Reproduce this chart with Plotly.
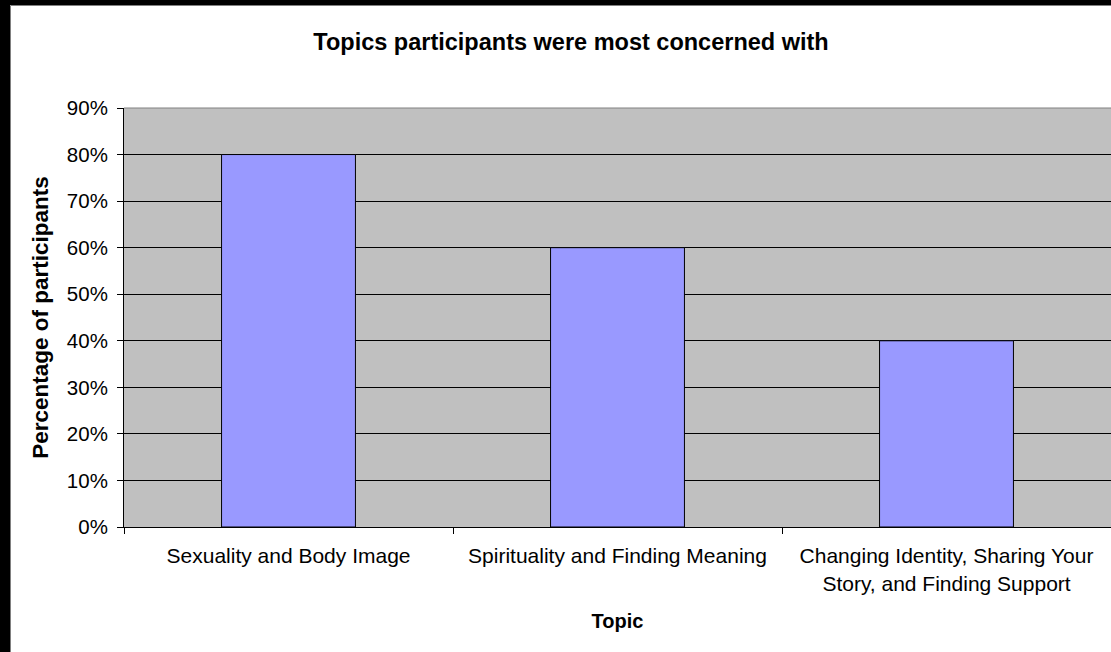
import plotly.graph_objects as go

categories = [
    "Sexuality and Body Image",
    "Spirituality and Finding Meaning",
    "Changing Identity, Sharing Your<br>Story, and Finding Support",
]
values = [0.80, 0.60, 0.40]
y_ticks = [0, 0.1, 0.2, 0.3, 0.4, 0.5, 0.6, 0.7, 0.8, 0.9]

W, H = 1111, 652
L, R, T, B = 124, 0, 108, 125
pw, ph = W - L - R, H - T - B

def px_x(px):
    return (px - L) / pw

def px_y(py):
    return 1 - (py - T) / ph

FONT = "Liberation Sans, Arial, sans-serif"

fig = go.Figure(
    go.Bar(
        x=categories,
        y=values,
        marker=dict(color="#9999FF", line=dict(color="black", width=1)),
        width=0.407,
    )
)

fig.update_layout(
    width=W,
    height=H,
    margin=dict(l=L, r=R, t=T, b=B, pad=0),
    paper_bgcolor="white",
    plot_bgcolor="#C0C0C0",
    font=dict(family=FONT, size=21, color="black"),
    showlegend=False,
    title=dict(
        text="<b>Topics participants were most concerned with</b>",
        font=dict(family=FONT, size=23.5, color="black"),
        xref="container", x=571 / W, xanchor="center",
        yref="container", y=1 - 42 / H, yanchor="middle",
    ),
    xaxis=dict(
        type="category",
        range=[-0.5, 2.5],
        showgrid=False,
        showline=True, linecolor="black", linewidth=1,
        ticks="outside", ticklen=6, tickcolor="black", tickwidth=1,
        tickson="boundaries",
        ticklabelstandoff=10,
        tickfont=dict(family=FONT, size=21, color="black"),
        title=dict(text="<b>Topic</b>", font=dict(family=FONT, size=20, color="black"), standoff=20),
        zeroline=False,
    ),
    yaxis=dict(
        range=[0, 0.9],
        tickvals=y_ticks,
        tickformat=".0%",
        showgrid=True, gridcolor="black", gridwidth=1,
        showline=True, linecolor="black", linewidth=1,
        ticks="outside", ticklen=6, tickcolor="black", tickwidth=1,
        ticklabelstandoff=5,
        tickfont=dict(family=FONT, size=20.5, color="black"),
        title=dict(text="<b>Percentage of participants</b>", font=dict(family=FONT, size=22.5, color="black"), standoff=11),
        zeroline=False,
    ),
    shapes=[
        # top plot-area border (grey)
        dict(type="line", xref="paper", yref="paper", x0=0, x1=1, y0=1, y1=1,
             line=dict(color="#808080", width=1), layer="above"),
        # black frame strips on left and top
        dict(type="rect", xref="paper", yref="paper",
             x0=px_x(0), x1=px_x(10), y0=px_y(H), y1=px_y(0),
             fillcolor="black", line=dict(width=0), layer="above"),
        dict(type="rect", xref="paper", yref="paper",
             x0=px_x(0), x1=px_x(W), y0=px_y(5), y1=px_y(0),
             fillcolor="black", line=dict(width=0), layer="above"),
        dict(type="line", xref="paper", yref="paper",
             x0=px_x(10.5), x1=px_x(10.5), y0=px_y(H), y1=px_y(5.5),
             line=dict(color="#808080", width=1), layer="above"),
        dict(type="line", xref="paper", yref="paper",
             x0=px_x(10.5), x1=px_x(W), y0=px_y(5.5), y1=px_y(5.5),
             line=dict(color="#808080", width=1), layer="above"),
    ],
)

fig.write_html("out.html")
